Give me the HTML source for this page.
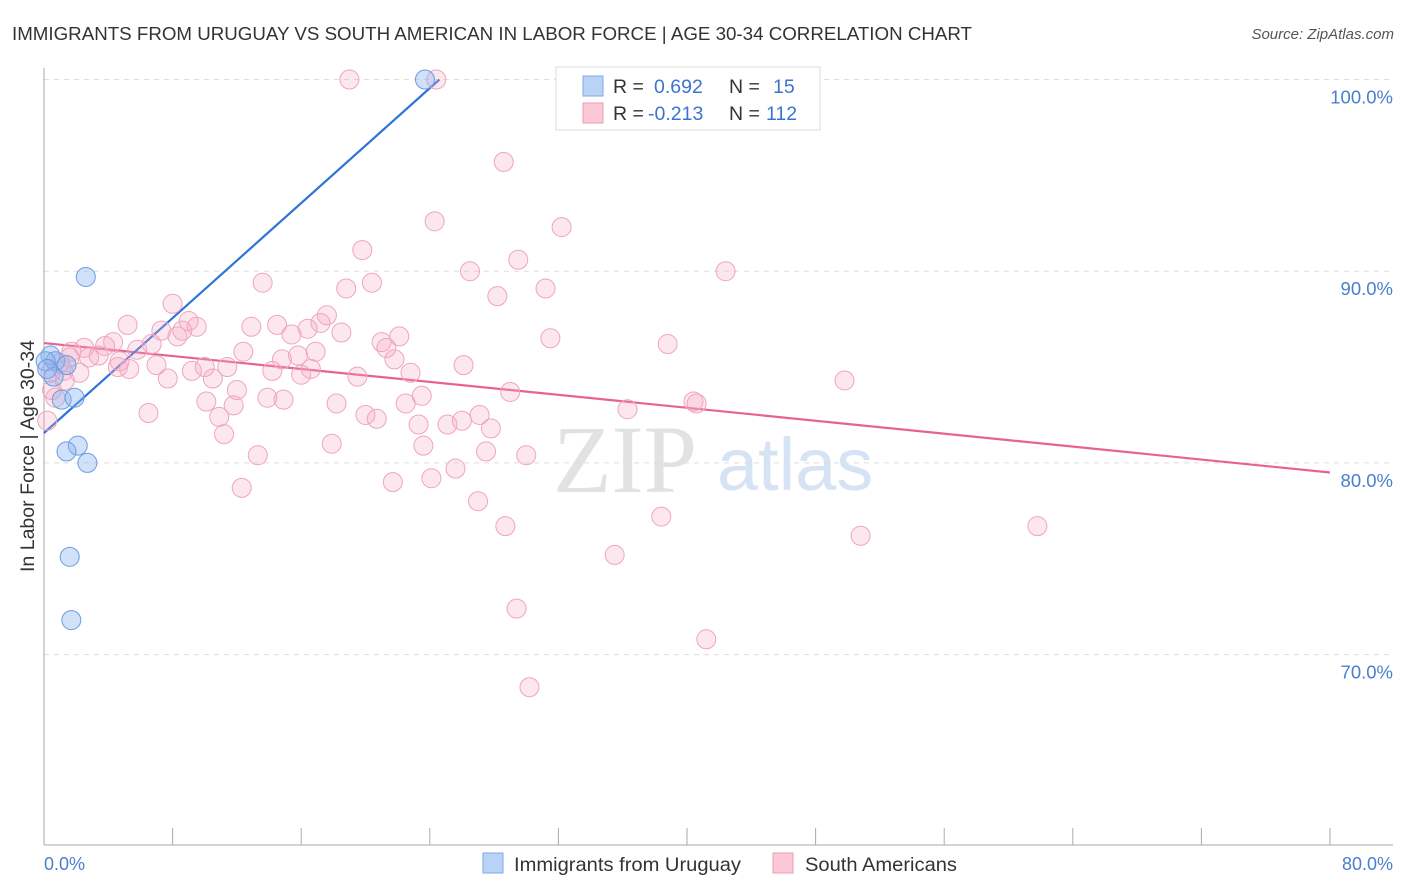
<!DOCTYPE html>
<html><head><meta charset="utf-8"><style>
body{margin:0;background:#fff;font-family:"Liberation Sans",sans-serif;}
</style></head><body>
<svg id="chart" width="1406" height="892" xmlns="http://www.w3.org/2000/svg" style="display:block">
<text x="12" y="40" font-size="18.5" fill="#333" textLength="960" lengthAdjust="spacingAndGlyphs">IMMIGRANTS FROM URUGUAY VS SOUTH AMERICAN IN LABOR FORCE | AGE 30-34 CORRELATION CHART</text>
<text x="1394" y="39" font-size="15" font-style="italic" fill="#555" text-anchor="end">Source: ZipAtlas.com</text>
<g>
<text x="553" y="492" font-size="96" font-family="Liberation Serif" fill="#e2e2e2">ZIP</text>
<text x="717" y="490" font-size="74" fill="#d6e3f5">atlas</text>
</g>
<g id="grid"></g><g id="axes"></g><g id="trends"></g><g id="pts"></g>
<text transform="translate(34,456) rotate(-90)" font-size="19" fill="#333" text-anchor="middle" textLength="232" lengthAdjust="spacingAndGlyphs">In Labor Force | Age 30-34</text>
<text x="44" y="870" font-size="18" fill="#4a7fd0">0.0%</text>
<text x="1393" y="870" font-size="18" fill="#4a7fd0" text-anchor="end">80.0%</text>
<g>
<rect x="556" y="67" width="264" height="63" fill="#fff" stroke="#ddd"/>
<rect x="583" y="76" width="20" height="20" fill="#b9d3f6" stroke="#7ea8e4"/>
<rect x="583" y="103" width="20" height="20" fill="#fbc8d6" stroke="#ee9db5"/>
<text x="613" y="93" font-size="19.5" fill="#333">R = </text><text x="654" y="93" font-size="19.5" fill="#3b74d0">0.692</text>
<text x="729" y="93" font-size="19.5" fill="#333">N = </text><text x="773" y="93" font-size="19.5" fill="#3b74d0">15</text>
<text x="613" y="120" font-size="19.5" fill="#333">R = </text><text x="648" y="120" font-size="19.5" fill="#3b74d0">-0.213</text>
<text x="729" y="120" font-size="19.5" fill="#333">N = </text><text x="766" y="120" font-size="19.5" fill="#3b74d0">112</text>
</g>
<g>
<rect x="483" y="853" width="20" height="20" fill="#b9d3f6" stroke="#7ea8e4"/>
<text x="514" y="871" font-size="19.5" fill="#333" textLength="227" lengthAdjust="spacingAndGlyphs">Immigrants from Uruguay</text>
<rect x="773" y="853" width="20" height="20" fill="#fbc8d6" stroke="#ee9db5"/>
<text x="805" y="871" font-size="19.5" fill="#333" textLength="152" lengthAdjust="spacingAndGlyphs">South Americans</text>
</g>
</svg>
<script>
const yTicks=[100,90,80,70];
const yTickLabels=["100.0%","90.0%","80.0%","70.0%"];
const xTicks=[0,8,16,24,32,40,48,56,64,72,80];
const blueX=[23.7,2.6,0.4,0.7,1.4,0.6,1.1,1.9,2.1,1.4,2.7,1.6,1.7,0.1,0.2];
const blueY=[100,89.7,85.6,85.3,85.1,84.5,83.3,83.4,80.9,80.6,80.0,75.1,71.8,85.3,84.9];
const pinkX=[19.0,24.4,32.7,28.6,24.3,32.2,19.8,29.5,26.5,42.4,13.6,20.4,18.8,31.2,28.2,8.0,17.6,5.2,9.0,9.5,12.9,14.5,17.2,7.3,8.6,8.3,16.4,15.4,18.5,22.1,31.5,38.8,6.7,4.3,5.8,3.8,2.5,1.7,3.4,2.8,12.4,21.0,21.3,15.8,14.8,16.9,21.8,26.1,4.7,4.6,5.3,7.0,10.0,11.4,9.2,14.2,16.6,22.8,16.0,19.5,1.2,2.2,7.7,10.5,49.8,12.0,13.9,23.5,29.0,14.9,10.1,11.8,18.2,22.5,6.5,10.9,20.0,20.7,27.1,36.3,40.4,40.6,23.3,25.1,26.0,27.8,11.2,17.9,23.6,27.5,13.3,30.0,25.6,24.1,21.7,12.3,27.0,28.7,38.4,50.8,61.8,35.5,29.4,41.2,30.2,1.0,0.4,1.3,0.7,0.2,0.5,1.6];
const pinkY=[100,100,100,95.7,92.6,92.3,91.1,90.6,90.0,90.0,89.4,89.4,89.1,89.1,88.7,88.3,87.7,87.2,87.4,87.1,87.1,87.2,87.3,86.9,86.9,86.6,87.0,86.7,86.8,86.6,86.5,86.2,86.2,86.3,85.9,86.1,86.0,85.8,85.6,85.5,85.8,86.3,86.0,85.6,85.4,85.8,85.4,85.1,85.3,85.0,84.9,85.1,85.0,85.0,84.8,84.8,84.9,84.7,84.6,84.5,84.8,84.7,84.4,84.4,84.3,83.8,83.4,83.5,83.7,83.3,83.2,83.0,83.1,83.1,82.6,82.4,82.5,82.3,82.5,82.8,83.2,83.1,82.0,82.0,82.2,81.8,81.5,81.0,80.9,80.6,80.4,80.4,79.7,79.2,79.0,78.7,78.0,76.7,77.2,76.2,76.7,75.2,72.4,70.8,68.3,85.2,84.7,84.3,83.4,82.2,83.8,85.5];
const blueTrendX=[0,24.6];
const blueTrendY=[81.56,100];
const pinkTrendX=[0,80];
const pinkTrendY=[86.25,79.5];

const NS="http://www.w3.org/2000/svg";
const sx=v=>44+v*(1286/80);
const sy=v=>79.5+(100-v)*19.17;
function mk(tag,attrs,parent){const e=document.createElementNS(NS,tag);for(const k in attrs)e.setAttribute(k,attrs[k]);document.getElementById(parent).appendChild(e);return e;}
yTicks.forEach((t,i)=>{
  const l=mk('line',{x1:44,x2:1393,y1:sy(t),y2:sy(t),stroke:'#ddd','stroke-dasharray':'5,5'},'grid');
  
  
  const tx=mk('text',{x:1393,y:sy(t)+24,'font-size':18.5,fill:'#4a7fd0','text-anchor':'end'},'grid');
  tx.textContent=yTickLabels[i];
  
  
});
let a=mk('line',{x1:44,x2:44,y1:68,y2:845,stroke:'#aaa'},'axes');


a=mk('line',{x1:44,x2:1393,y1:845,y2:845,stroke:'#aaa'},'axes');


xTicks.forEach(t=>{
  const l=mk('line',{x1:sx(t),x2:sx(t),y1:828,y2:845,stroke:'#aaa'},'axes');
  
  
});
pinkX.forEach((x,i)=>{
  const c=mk('circle',{cx:sx(x),cy:sy(pinkY[i]),r:9.5,fill:'rgba(248,170,195,0.28)',stroke:'#efa5bd','stroke-width':1},'pts');
  
  
});
blueX.forEach((x,i)=>{
  const c=mk('circle',{cx:sx(x),cy:sy(blueY[i]),r:9.5,fill:'rgba(140,180,240,0.4)',stroke:'#6a9de0','stroke-width':1},'pts');
  
  
});
let t=mk('line',{x1:sx(pinkTrendX[0]),y1:sy(pinkTrendY[0]),x2:sx(pinkTrendX[1]),y2:sy(pinkTrendY[1]),stroke:'#e8628f','stroke-width':2.2},'trends');


t=mk('line',{x1:sx(blueTrendX[0]),y1:sy(blueTrendY[0]),x2:sx(blueTrendX[1]),y2:sy(blueTrendY[1]),stroke:'#2f74d6','stroke-width':2.2},'trends');


</script>
</body></html>
